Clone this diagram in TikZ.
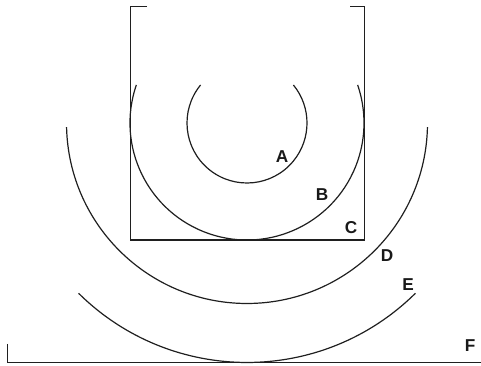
\documentclass[tikz,border=0pt]{standalone}
\usepackage{fontspec}
\setmainfont{Liberation Sans}
\begin{document}
\begin{tikzpicture}[x=1pt,y=1pt,
  ln/.style={line width=1.2pt, draw=black!88},
  lbl/.style={inner sep=0pt, font=\fontsize{17.2}{19}\selectfont\bfseries, text=black!90}]
\useasboundingbox (0,0) rectangle (481,366);
\coordinate (O) at (247,243);
% box open at top
\draw[ln] (147,359.5) -- (130.5,359.5) -- (130.5,126) -- (364.5,126) -- (364.5,359.5) -- (350,359.5);
% concentric arcs
\draw[ln] ([shift={(140.7:60pt)}]O) arc[start angle=140.7, end angle=399.3, radius=60pt];
\draw[ln] ([shift={(161:117pt)}]O) arc[start angle=161, end angle=379, radius=117pt];
\draw[ln] ([shift={(181.3:180.5pt)}]O) arc[start angle=181.3, end angle=358.7, radius=180.5pt];
\draw[ln] ([shift={(225.3:239.5pt)}]O) arc[start angle=225.3, end angle=314.7, radius=239.5pt];
% ground line
\draw[ln] (7.5,22) -- (7.5,3.5) -- (481,3.5);
% labels
\node[lbl] (A) at (282,209) {A};
\node[lbl] (B) at (322,171.5) {B};
\node[lbl] (C) at (351,138) {C};
\node[lbl] (D) at (387,110) {D};
\node[lbl] (E) at (408,81.5) {E};
\node[lbl] (F) at (470,20) {F};
\end{tikzpicture}
\end{document}
